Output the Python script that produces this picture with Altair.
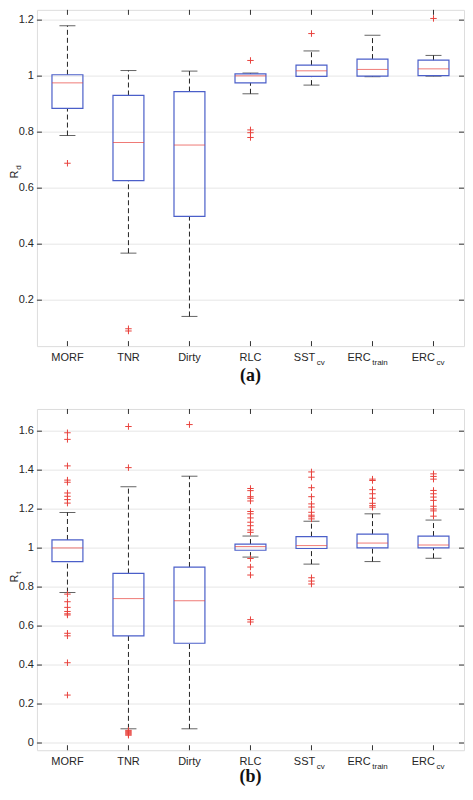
import altair as alt
import pandas as pd

categories = ["MORF", "TNR", "Dirty", "RLC", "SST_cv", "ERC_train", "ERC_cv"]
label_main = ["MORF", "TNR", "Dirty", "RLC", "SST", "ERC", "ERC"]
label_sub = ["", "", "", "", "cv", "train", "cv"]

# ---- panel (a): R_d ----
a_lw = [0.788, 0.368, 0.142, 0.937, 0.968, 0.998, 1.000]
a_q1 = [0.885, 0.627, 0.499, 0.976, 0.999, 1.000, 1.002]
a_med = [0.976, 0.763, 0.754, 1.001, 1.019, 1.024, 1.026]
a_q3 = [1.005, 0.931, 0.945, 1.008, 1.039, 1.061, 1.057]
a_uw = [1.180, 1.020, 1.018, 1.011, 1.090, 1.146, 1.074]
a_outliers = {
    "MORF": [0.689],
    "TNR": [0.098, 0.090],
    "Dirty": [],
    "RLC": [1.056, 0.808, 0.798, 0.781],
    "SST_cv": [1.152],
    "ERC_train": [],
    "ERC_cv": [1.206],
}
a_ticks = [0.2, 0.4, 0.6, 0.8, 1.0, 1.2]

# ---- panel (b): R_t ----
b_lw = [0.772, 0.073, 0.073, 0.954, 0.918, 0.931, 0.948]
b_q1 = [0.931, 0.550, 0.512, 0.989, 0.998, 1.001, 1.001]
b_med = [1.001, 0.741, 0.730, 1.008, 1.013, 1.026, 1.016]
b_q3 = [1.042, 0.870, 0.903, 1.021, 1.059, 1.072, 1.062]
b_uw = [1.183, 1.315, 1.369, 1.062, 1.138, 1.176, 1.144]
b_outliers = {
    "MORF": [1.592, 1.558, 1.422, 1.349, 1.338, 1.283, 1.266, 1.249, 1.231,
             0.764, 0.725, 0.696, 0.675, 0.663, 0.657, 0.563, 0.550, 0.412, 0.246],
    "TNR": [1.624, 1.413, 0.065, 0.060, 0.055, 0.050, 0.045, 0.040],
    "Dirty": [1.634],
    "RLC": [1.306, 1.295, 1.264, 1.256, 1.242, 1.188, 1.176, 1.155, 1.133, 1.115,
            1.093, 1.081, 0.947, 0.903, 0.862, 0.633, 0.621],
    "SST_cv": [1.391, 1.364, 1.310, 1.264, 1.227, 1.211, 1.184, 1.169, 1.161, 1.150,
               0.848, 0.831, 0.816],
    "ERC_train": [1.354, 1.347, 1.300, 1.279, 1.256, 1.230, 1.218, 1.210],
    "ERC_cv": [1.381, 1.368, 1.354, 1.296, 1.279, 1.262, 1.245, 1.215, 1.201, 1.191, 1.164],
}
b_ticks = [0.0, 0.2, 0.4, 0.6, 0.8, 1.0, 1.2, 1.4, 1.6]

SANS = "Liberation Sans"
SERIF = "Liberation Serif"
TXT = "#262626"
BLUE = "#4b5fc9"
RED = "#e8413c"
FRAME = "#333333"
W = 428
BOX_W = 31
CAP_W = 16
sub_anchor = {"SST_cv": 4.5, "ERC_train": -1.0, "ERC_cv": 2.2}
CROSS = "M-1,0L1,0M0,-1L0,1"


def panel(lw, q1, med, q3, uw, outliers, ticks, ydom, H, ysym, ysub, tag, title_y, tag_dy):
    stats = pd.DataFrame({"cat": categories, "lw": lw, "q1": q1, "med": med,
                          "q3": q3, "uw": uw})
    out = pd.DataFrame([(c, v) for c, vals in outliers.items() for v in vals],
                       columns=["cat", "val"])
    labs = pd.DataFrame({"cat": categories, "main": label_main, "sub": label_sub})
    tk = pd.DataFrame({"t": ticks})

    xs = alt.Scale(domain=categories, paddingInner=0, paddingOuter=0)
    X = alt.X("cat:N", scale=xs, axis=None)
    ys = alt.Scale(domain=ydom, nice=False, zero=False)

    def Y(f):
        return alt.Y(f, scale=ys, axis=None)

    base = alt.Chart(stats)
    tkc = alt.Chart(tk)
    layers = []
    # grid lines
    layers.append(tkc.mark_rule(color="#e6e6e6", strokeWidth=1)
                  .encode(y=Y("t:Q"), x=alt.value(0), x2=alt.value(W)))
    # y tick labels
    layers.append(tkc.mark_text(font=SANS, fontSize=11, color=TXT, align="right",
                                baseline="middle", dx=-3)
                  .encode(y=Y("t:Q"), x=alt.value(0),
                          text=alt.Text("t:Q", format=".1~f")))
    whisk = dict(color="#222222", strokeWidth=1, strokeDash=[5, 3])
    layers.append(base.mark_rule(**whisk).encode(x=X, y=Y("q3:Q"), y2="uw:Q"))
    layers.append(base.mark_rule(**whisk).encode(x=X, y=Y("lw:Q"), y2="q1:Q"))
    cap = dict(color="#222222", size=CAP_W, thickness=1)
    layers.append(base.mark_tick(**cap).encode(x=X, y=Y("uw:Q")))
    layers.append(base.mark_tick(**cap).encode(x=X, y=Y("lw:Q")))
    layers.append(base.mark_bar(size=BOX_W, fillOpacity=0, stroke=BLUE, strokeWidth=1.2)
                  .encode(x=X, y=Y("q1:Q"), y2="q3:Q"))
    layers.append(base.mark_tick(color=RED, size=BOX_W, thickness=1).encode(x=X, y=Y("med:Q")))
    layers.append(alt.Chart(out).mark_point(shape=CROSS, size=42, filled=False, stroke=RED,
                                            strokeWidth=1, opacity=1)
                  .encode(x=X, y=Y("val:Q")))
    # inward ticks
    tick_c = dict(color=FRAME, strokeWidth=1)
    layers.append(base.mark_rule(**tick_c).encode(x=X, y=alt.value(0), y2=alt.value(5)))
    layers.append(base.mark_rule(**tick_c).encode(x=X, y=alt.value(H), y2=alt.value(H - 5)))
    layers.append(tkc.mark_rule(**tick_c).encode(y=Y("t:Q"), x=alt.value(0), x2=alt.value(5)))
    layers.append(tkc.mark_rule(**tick_c).encode(y=Y("t:Q"), x=alt.value(W - 5), x2=alt.value(W)))
    # x labels
    txt = dict(font=SANS, color=TXT, baseline="alphabetic")
    layers.append(alt.Chart(labs).transform_filter("datum.sub == ''")
                  .mark_text(fontSize=11, align="center", **txt)
                  .encode(x=X, y=alt.value(H + 14.5), text="main:N"))
    for cat, dxa in sub_anchor.items():
        d = alt.Chart(labs).transform_filter(alt.datum.cat == cat)
        layers.append(d.mark_text(fontSize=11, align="right", dx=dxa - 0.8, **txt)
                      .encode(x=X, y=alt.value(H + 14.5), text="main:N"))
        layers.append(d.mark_text(fontSize=8, align="left", dx=dxa + 0.8, **txt)
                      .encode(x=X, y=alt.value(H + 18.5), text="sub:N"))
    # y title with subscript
    yt = pd.DataFrame({"m": [ysym], "s": [ysub], "tag": [tag]})
    layers.append(alt.Chart(yt).mark_text(fontSize=11, angle=270, align="right", **txt)
                  .encode(text="m:N", x=alt.value(-19), y=alt.value(title_y)))
    layers.append(alt.Chart(yt).mark_text(fontSize=8, angle=270, align="left", **txt)
                  .encode(text="s:N", x=alt.value(-16), y=alt.value(title_y - 0.8)))
    # panel tag
    layers.append(alt.Chart(yt).mark_text(font=SERIF, fontSize=18, fontWeight="bold",
                                          color="#111111", baseline="alphabetic",
                                          align="center")
                  .encode(text="tag:N", x=alt.value(W / 2), y=alt.value(H + tag_dy)))
    return alt.layer(*layers).properties(width=W, height=H)


top = panel(a_lw, a_q1, a_med, a_q3, a_uw, a_outliers, a_ticks, [0.036, 1.2367], 337,
            "R", "d", "(a)", 161, 34.5)
bottom = panel(b_lw, b_q1, b_med, b_q3, b_uw, b_outliers, b_ticks, [-0.037, 1.714], 342,
               "R", "t", "(b)", 166, 32)

chart = alt.vconcat(top, bottom, spacing=23).properties(
    padding={"left": 0, "top": 0, "right": 0, "bottom": 0},
    autosize=alt.AutoSizeParams(type="pad"),
).configure_view(
    stroke=FRAME, strokeWidth=1
).configure(background="white")

chart.save("out.html", embed_options={"renderer": "svg", "actions": False})
